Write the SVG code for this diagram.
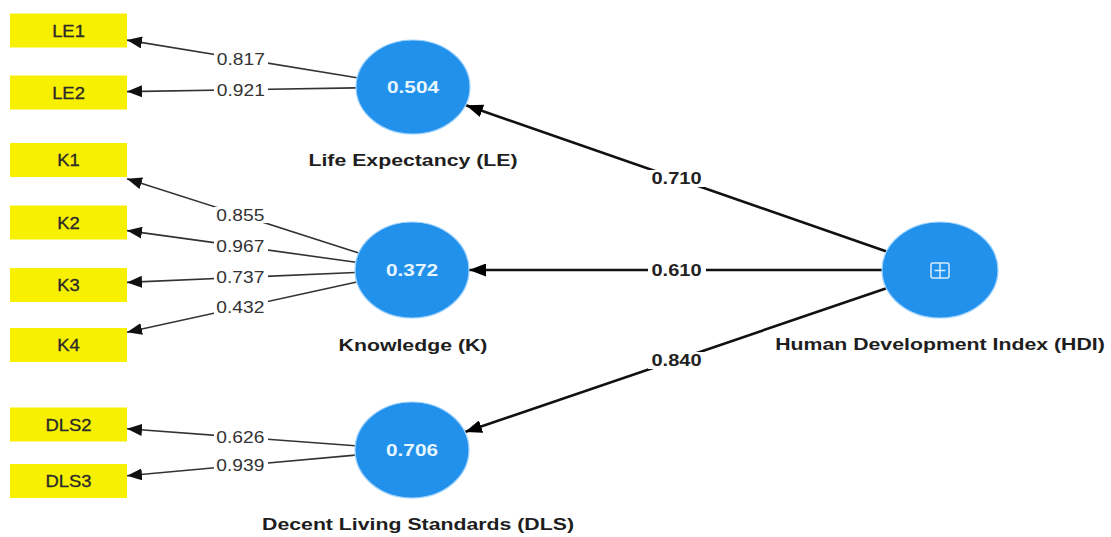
<svg xmlns="http://www.w3.org/2000/svg" width="1111" height="537" viewBox="0 0 1111 537">
<defs>
<marker id="arrS" markerUnits="userSpaceOnUse" markerWidth="15" markerHeight="12" refX="15" refY="6" orient="auto"><path d="M0,0 L15,6 L0,12 z" fill="#111"/></marker>
<marker id="arrL" markerUnits="userSpaceOnUse" markerWidth="17" markerHeight="13" refX="17" refY="6.5" orient="auto"><path d="M0,0 L17,6.5 L0,13 z" fill="#000"/></marker>
</defs>
<style>
.box{fill:#f7f000;}
.ind{font-family:"Liberation Sans",Arial,sans-serif;font-size:16px;fill:#2a2a2a;stroke:#2a2a2a;stroke-width:0.3;text-anchor:middle;}
.lv{fill:#2191ec;stroke:#9fd2ff;stroke-width:1.2;}
.val{font-family:"Liberation Sans",Arial,sans-serif;font-size:16px;font-weight:bold;fill:#e8f6ff;text-anchor:middle;}
.lvl{font-family:"Liberation Sans",Arial,sans-serif;font-size:16px;font-weight:bold;fill:#1e1e1e;text-anchor:middle;}
.ld{stroke:#333;stroke-width:1.6;fill:none;marker-end:url(#arrS);}
.pc{stroke:#111;stroke-width:2.6;fill:none;marker-end:url(#arrL);}
.bg{fill:#fff;}
.ldt{font-family:"Liberation Sans",Arial,sans-serif;font-size:16px;fill:#333;text-anchor:middle;}
.pct{font-family:"Liberation Sans",Arial,sans-serif;font-size:16px;font-weight:bold;fill:#222;text-anchor:middle;}
</style>
<rect width="1111" height="537" fill="#fff"/>

<g id="connectors">
<line class="ld" x1="357.1" y1="77.8" x2="127" y2="40.1"/>
<line class="ld" x1="356" y1="87.9" x2="127" y2="91.6"/>
<line class="ld" x1="358.7" y1="252.9" x2="127" y2="178.7"/>
<line class="ld" x1="355.8" y1="262.2" x2="127" y2="230.6"/>
<line class="ld" x1="355.1" y1="272.5" x2="127" y2="282.4"/>
<line class="ld" x1="356.8" y1="282" x2="127" y2="332.2"/>
<line class="ld" x1="355.2" y1="445.8" x2="127" y2="428.8"/>
<line class="ld" x1="355.3" y1="455.1" x2="127" y2="475.7"/>
<line class="pc" x1="887.3" y1="251.7" x2="466" y2="105.3"/>
<line class="pc" x1="883" y1="270" x2="469" y2="270"/>
<line class="pc" x1="887.2" y1="288" x2="465" y2="432"/>

<rect class="bg" x="214" y="51" width="54" height="16"/>
<text class="ldt" transform="translate(240.8,64.5) scale(1.2,1)">0.817</text>
<rect class="bg" x="214" y="82" width="54" height="16"/>
<text class="ldt" transform="translate(240.8,95.5) scale(1.2,1)">0.921</text>
<rect class="bg" x="214" y="207" width="54" height="16"/>
<text class="ldt" transform="translate(240.3,220.8) scale(1.2,1)">0.855</text>
<rect class="bg" x="214" y="238" width="54" height="16"/>
<text class="ldt" transform="translate(240.3,252) scale(1.2,1)">0.967</text>
<rect class="bg" x="214" y="270" width="54" height="16"/>
<text class="ldt" transform="translate(240.3,283.3) scale(1.2,1)">0.737</text>
<rect class="bg" x="214" y="300" width="54" height="16"/>
<text class="ldt" transform="translate(240.3,313.3) scale(1.2,1)">0.432</text>
<rect class="bg" x="214" y="430" width="54" height="16"/>
<text class="ldt" transform="translate(240.3,443) scale(1.2,1)">0.626</text>
<rect class="bg" x="214" y="458" width="54" height="16"/>
<text class="ldt" transform="translate(240.3,471.3) scale(1.2,1)">0.939</text>

<rect class="bg" x="648" y="170" width="58" height="17"/>
<text class="pct" transform="translate(676.5,184.3) scale(1.25,1)">0.710</text>
<rect class="bg" x="648" y="262" width="58" height="17"/>
<text class="pct" transform="translate(676.5,275.8) scale(1.25,1)">0.610</text>
<rect class="bg" x="648" y="352" width="58" height="17"/>
<text class="pct" transform="translate(676.5,365.8) scale(1.25,1)">0.840</text>
</g>

<g id="LE1"><rect class="box" x="10" y="13.5" width="117" height="34"/><text class="ind" transform="translate(68.5,36.5) scale(1.15,1)">LE1</text></g>
<g id="LE2"><rect class="box" x="10" y="75.5" width="117" height="34"/><text class="ind" transform="translate(68.5,98.5) scale(1.15,1)">LE2</text></g>
<g id="K1"><rect class="box" x="10" y="143" width="117" height="34"/><text class="ind" transform="translate(68.5,166) scale(1.15,1)">K1</text></g>
<g id="K2"><rect class="box" x="10" y="205.5" width="117" height="34"/><text class="ind" transform="translate(68.5,228.5) scale(1.15,1)">K2</text></g>
<g id="K3"><rect class="box" x="10" y="268" width="117" height="34"/><text class="ind" transform="translate(68.5,291) scale(1.15,1)">K3</text></g>
<g id="K4"><rect class="box" x="10" y="328" width="117" height="34"/><text class="ind" transform="translate(68.5,351) scale(1.15,1)">K4</text></g>
<g id="DLS2"><rect class="box" x="10" y="407.5" width="117" height="34"/><text class="ind" transform="translate(68.5,430.5) scale(1.15,1)">DLS2</text></g>
<g id="DLS3"><rect class="box" x="10" y="464" width="117" height="34"/><text class="ind" transform="translate(68.5,487) scale(1.15,1)">DLS3</text></g>

<g id="LE">
<ellipse class="lv" cx="413" cy="87" rx="57" ry="47"/>
<text class="val" transform="translate(413,93) scale(1.3,1)">0.504</text>
<text class="lvl" transform="translate(413,166) scale(1.33,1)">Life Expectancy (LE)</text>
</g>
<g id="K">
<ellipse class="lv" cx="412" cy="270" rx="57" ry="48"/>
<text class="val" transform="translate(412,276) scale(1.3,1)">0.372</text>
<text class="lvl" transform="translate(413,351) scale(1.33,1)">Knowledge (K)</text>
</g>
<g id="DLS">
<ellipse class="lv" cx="412" cy="450" rx="57" ry="48"/>
<text class="val" transform="translate(412,456) scale(1.3,1)">0.706</text>
<text class="lvl" transform="translate(418,530) scale(1.33,1)">Decent Living Standards (DLS)</text>
</g>
<g id="HDI">
<ellipse class="lv" cx="940" cy="270" rx="58" ry="48"/>
<rect x="931" y="263" width="18" height="15" rx="2" fill="none" stroke="#d4ecff" stroke-width="1.5"/>
<line x1="940" y1="263" x2="940" y2="278" stroke="#d4ecff" stroke-width="1.5"/>
<line x1="934.5" y1="270.5" x2="945.5" y2="270.5" stroke="#d4ecff" stroke-width="1.5"/>
<text class="lvl" transform="translate(940,350) scale(1.33,1)">Human Development Index (HDI)</text>
</g>
</svg>
